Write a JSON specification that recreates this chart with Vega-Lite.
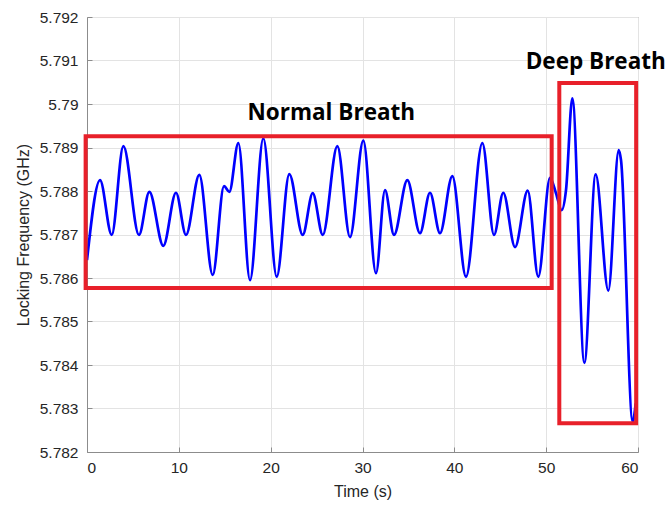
{
  "$schema": "https://vega.github.io/schema/vega-lite/v6.json",
  "width": 551,
  "height": 435,
  "autosize": {"type": "none"},
  "padding": {"left": 87, "top": 17, "right": 29, "bottom": 55},
  "background": "white",
  "config": {
    "view": {"stroke": "#8c8c8c", "strokeWidth": 1},
    "axis": {
      "labelFont": "Liberation Sans",
      "titleFont": "Liberation Sans",
      "labelFontSize": 15.5,
      "titleFontSize": 16,
      "titleFontWeight": "normal",
      "labelColor": "#262626",
      "titleColor": "#262626",
      "domainColor": "#8c8c8c",
      "tickColor": "#8c8c8c",
      "gridColor": "#e3e3e3",
      "gridWidth": 1
    }
  },
  "datasets": {
    "signal": [
      {"t": 0, "v": 5.78641},
      {"t": 1.42, "v": 5.78825},
      {"t": 2.69, "v": 5.78699},
      {"t": 3.96, "v": 5.78903},
      {"t": 5.66, "v": 5.78699},
      {"t": 6.79, "v": 5.78798},
      {"t": 8.31, "v": 5.78674},
      {"t": 9.69, "v": 5.78796},
      {"t": 10.78, "v": 5.78699},
      {"t": 12.23, "v": 5.78837},
      {"t": 13.69, "v": 5.78607},
      {"t": 14.92, "v": 5.78811},
      {"t": 15.5, "v": 5.78798},
      {"t": 16.48, "v": 5.7891},
      {"t": 17.75, "v": 5.78595},
      {"t": 19.2, "v": 5.78921},
      {"t": 20.66, "v": 5.78603},
      {"t": 22.03, "v": 5.78839},
      {"t": 23.49, "v": 5.78699},
      {"t": 24.58, "v": 5.78795},
      {"t": 25.67, "v": 5.78699},
      {"t": 27.26, "v": 5.78903},
      {"t": 28.64, "v": 5.78694},
      {"t": 30.09, "v": 5.78916},
      {"t": 31.47, "v": 5.78611},
      {"t": 32.45, "v": 5.78802},
      {"t": 33.43, "v": 5.78699},
      {"t": 34.88, "v": 5.78825},
      {"t": 36.26, "v": 5.78703},
      {"t": 37.35, "v": 5.78796},
      {"t": 38.44, "v": 5.78703},
      {"t": 39.78, "v": 5.78834},
      {"t": 41.27, "v": 5.78603},
      {"t": 43.05, "v": 5.7891},
      {"t": 44.32, "v": 5.78699},
      {"t": 45.33, "v": 5.78796},
      {"t": 46.61, "v": 5.78671},
      {"t": 47.99, "v": 5.78801},
      {"t": 49.14, "v": 5.78603},
      {"t": 50.42, "v": 5.7883},
      {"t": 51.07, "v": 5.78795},
      {"t": 51.69, "v": 5.78756},
      {"t": 52.16, "v": 5.78802},
      {"t": 52.85, "v": 5.79013},
      {"t": 54.16, "v": 5.78405},
      {"t": 55.39, "v": 5.78838},
      {"t": 56.77, "v": 5.78571},
      {"t": 57.9, "v": 5.78894},
      {"t": 58.15, "v": 5.78871},
      {"t": 59.42, "v": 5.7827},
      {"t": 59.75, "v": 5.78312}
    ],
    "boxes": [
      {"x1": -0.15, "x2": 50.6, "y1": 5.78577, "y2": 5.78926},
      {"x1": 51.43, "x2": 59.8, "y1": 5.78266, "y2": 5.79048}
    ],
    "labels": [
      {"t": 26.6, "v": 5.78979, "label": "Normal Breath"},
      {"t": 55.4, "v": 5.79097, "label": "Deep Breath"}
    ]
  },
  "layer": [
    {
      "data": {"name": "signal"},
      "mark": {"type": "line", "color": "#0000ff", "strokeWidth": 2.7, "interpolate": "monotone"},
      "encoding": {
        "x": {
          "field": "t", "type": "quantitative",
          "scale": {"domain": [0, 60], "nice": false},
          "axis": {"title": "Time (s)", "values": [0, 10, 20, 30, 40, 50, 60], "grid": true, "tickSize": -5, "labelPadding": 13, "titlePadding": 8}
        },
        "y": {
          "field": "v", "type": "quantitative",
          "scale": {"domain": [5.782, 5.792], "nice": false, "zero": false},
          "axis": {"title": "Locking Frequency (GHz)", "values": [5.782, 5.783, 5.784, 5.785, 5.786, 5.787, 5.788, 5.789, 5.79, 5.791, 5.792], "format": ".3~f", "grid": true, "tickSize": -5, "labelPadding": 14, "titlePadding": 8}
        }
      }
    },
    {
      "data": {"name": "boxes"},
      "mark": {"type": "rect", "fill": null, "fillOpacity": 0, "stroke": "#e8202a", "strokeWidth": 4},
      "encoding": {
        "x": {"field": "x1", "type": "quantitative"},
        "x2": {"field": "x2"},
        "y": {"field": "y1", "type": "quantitative"},
        "y2": {"field": "y2"}
      }
    },
    {
      "data": {"name": "labels"},
      "mark": {"type": "text", "font": "Open Sans", "fontWeight": "bold", "fontSize": 22.5, "color": "black", "align": "center", "baseline": "middle"},
      "encoding": {
        "x": {"field": "t", "type": "quantitative"},
        "y": {"field": "v", "type": "quantitative"},
        "text": {"field": "label"}
      }
    }
  ]
}
